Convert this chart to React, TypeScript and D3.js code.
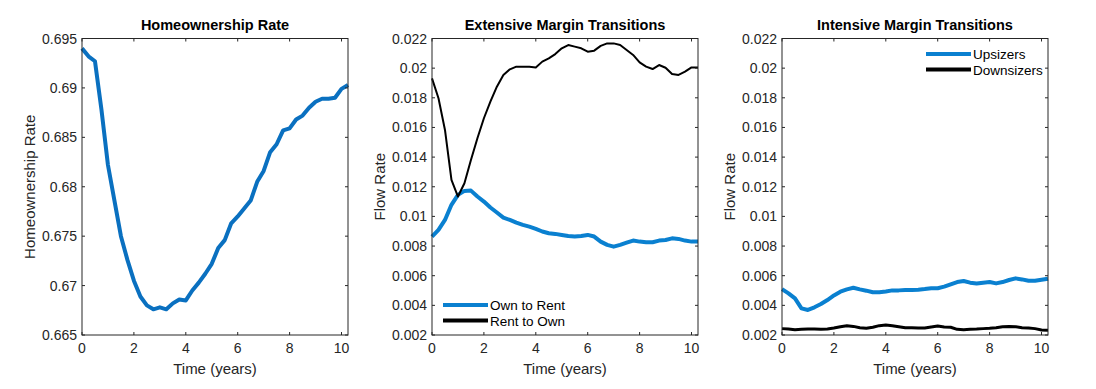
import * as d3 from 'd3'

const times = d3.range(0, 42).map(i => i * 0.25)

const homeownership = [
  0.6940, 0.6932, 0.6927, 0.6878, 0.6822, 0.6786, 0.6750, 0.6726, 0.6705, 0.6689,
  0.6680, 0.6676, 0.6678, 0.6676, 0.6682, 0.6686, 0.6685, 0.6695, 0.6703, 0.6712,
  0.6722, 0.6738, 0.6746, 0.6763, 0.6770, 0.6778, 0.6786, 0.6805, 0.6816, 0.6835,
  0.6843, 0.6857, 0.6859, 0.6868, 0.6872, 0.6880, 0.6886, 0.6889, 0.6889, 0.6890,
  0.6899, 0.6903,
]

const ownToRent = [
  0.00864, 0.00909, 0.00976, 0.01078, 0.01145, 0.01172, 0.01174, 0.01134, 0.01100, 0.01060,
  0.01026, 0.00992, 0.00976, 0.00958, 0.00943, 0.00931, 0.00916, 0.00898, 0.00886, 0.00882,
  0.00875, 0.00868, 0.00864, 0.00868, 0.00875, 0.00864, 0.00830, 0.00808, 0.00796, 0.00808,
  0.00823, 0.00837, 0.00830, 0.00826, 0.00826, 0.00837, 0.00841, 0.00852, 0.00848, 0.00837,
  0.00830, 0.00830,
]

const rentToOwn = [
  0.01931, 0.01797, 0.01583, 0.01246, 0.01134, 0.01224, 0.01381, 0.01527, 0.01662, 0.01774,
  0.01875, 0.01954, 0.01992, 0.02010, 0.02010, 0.02010, 0.02005, 0.02044, 0.02066, 0.02095,
  0.02134, 0.02156, 0.02145, 0.02134, 0.02111, 0.02118, 0.02150, 0.02167, 0.02167, 0.02156,
  0.02122, 0.02089, 0.02039, 0.02010, 0.01994, 0.02021, 0.02003, 0.01960, 0.01954, 0.01976,
  0.02005, 0.02005,
]

const upsizers = [
  0.00510, 0.00481, 0.00447, 0.00380, 0.00369, 0.00387, 0.00409, 0.00436, 0.00467, 0.00492,
  0.00508, 0.00519, 0.00508, 0.00499, 0.00488, 0.00488, 0.00494, 0.00501, 0.00501, 0.00503,
  0.00503, 0.00506, 0.00510, 0.00515, 0.00515, 0.00526, 0.00542, 0.00557, 0.00564, 0.00553,
  0.00548, 0.00553, 0.00557, 0.00548, 0.00557, 0.00571, 0.00582, 0.00575, 0.00566, 0.00566,
  0.00573, 0.00580,
]

const downsizers = [
  0.00243, 0.00240, 0.00236, 0.00238, 0.00240, 0.00240, 0.00238, 0.00240, 0.00247, 0.00256,
  0.00263, 0.00258, 0.00249, 0.00245, 0.00252, 0.00263, 0.00267, 0.00263, 0.00256, 0.00249,
  0.00249, 0.00247, 0.00247, 0.00254, 0.00260, 0.00254, 0.00252, 0.00238, 0.00236, 0.00238,
  0.00240, 0.00243, 0.00245, 0.00249, 0.00256, 0.00258, 0.00256, 0.00249, 0.00247, 0.00243,
  0.00234, 0.00232,
]

const xTicks = [0, 2, 4, 6, 8, 10]
const homeTicks = [0.665, 0.67, 0.675, 0.68, 0.685, 0.69, 0.695]
const flowTicks = [0.002, 0.004, 0.006, 0.008, 0.01, 0.012, 0.014, 0.016, 0.018, 0.02, 0.022]

const FONT = 'Liberation Sans, Arial, Helvetica, sans-serif'
const AXIS = '#262626'
const BLUE1 = '#0a70c0'
const BLUE2 = '#0a80d0'

interface Series {
  values: number[]
  color: string
  width: number
  label?: string
}

interface PanelProps {
  left: number
  right: number
  title: string
  yLabel: string
  yDomain: [number, number]
  yTicks: number[]
  series: Series[]
  legend?: { x: number; y: number; lineWidth: number }
}

const TOP = 38.5
const BOTTOM = 335

function Panel({ left, right, title, yLabel, yDomain, yTicks, series, legend }: PanelProps) {
  const x = d3.scaleLinear().domain([0, 10.25]).range([left, right])
  const y = d3.scaleLinear().domain(yDomain).range([BOTTOM, TOP])
  const tickLen = 3

  const line = d3.line<number>()
    .x((_, i) => x(times[i]))
    .y(d => y(d))

  return (
    <g>
      <rect x={left} y={TOP} width={right - left} height={BOTTOM - TOP} fill="#fff" />
      {series.map((s, i) => (
        <path key={i} d={line(s.values) || ''} fill="none" stroke={s.color}
          strokeWidth={s.width} strokeLinejoin="round" strokeLinecap="butt" />
      ))}
      <rect x={left} y={TOP} width={right - left} height={BOTTOM - TOP}
        fill="none" stroke={AXIS} strokeWidth={1} />
      {xTicks.map(t => (
        <g key={'x' + t}>
          <line x1={x(t)} x2={x(t)} y1={BOTTOM} y2={BOTTOM - tickLen} stroke={AXIS} />
          <line x1={x(t)} x2={x(t)} y1={TOP} y2={TOP + tickLen} stroke={AXIS} />
          <text x={x(t)} y={BOTTOM + 18} textAnchor="middle" fontSize={14}
            fontFamily={FONT} fill={AXIS}>{t}</text>
        </g>
      ))}
      {yTicks.map(t => (
        <g key={'y' + t}>
          <line x1={left} x2={left + tickLen} y1={y(t)} y2={y(t)} stroke={AXIS} />
          <line x1={right} x2={right - tickLen} y1={y(t)} y2={y(t)} stroke={AXIS} />
          <text x={left - 5} y={y(t) + 5} textAnchor="end" fontSize={14}
            fontFamily={FONT} fill={AXIS}>{String(+t.toFixed(4))}</text>
        </g>
      ))}
      <text x={(left + right) / 2} y={30} textAnchor="middle" fontSize={14.5}
        fontWeight="bold" fontFamily={FONT} fill="#000">{title}</text>
      <text x={(left + right) / 2} y={374} textAnchor="middle" fontSize={15}
        fontFamily={FONT} fill={AXIS}>Time (years)</text>
      <text transform={`translate(${left - 47},${(TOP + BOTTOM) / 2}) rotate(-90)`}
        textAnchor="middle" fontSize={15} fontFamily={FONT} fill={AXIS}>{yLabel}</text>
      {legend && series.map((s, i) => (
        <g key={'l' + i}>
          <line x1={legend.x} x2={legend.x + 45} y1={legend.y + i * 15.5}
            y2={legend.y + i * 15.5} stroke={s.color} strokeWidth={legend.lineWidth} />
          <text x={legend.x + 47} y={legend.y + i * 15.5 + 5} fontSize={13.5}
            fontFamily={FONT} fill="#000">{s.label}</text>
        </g>
      ))}
    </g>
  )
}

export default function App() {
  return (
    <svg width={1096} height={389} style={{ position: 'absolute', left: 0, top: 0, background: '#fff' }}>
      <rect width={1096} height={389} fill="#fff" />
      <Panel left={82} right={348} title="Homeownership Rate" yLabel="Homeownership Rate"
        yDomain={[0.665, 0.695]} yTicks={homeTicks}
        series={[{ values: homeownership, color: BLUE1, width: 4 }]} />
      <Panel left={432} right={698} title="Extensive Margin Transitions" yLabel="Flow Rate"
        yDomain={[0.002, 0.022]} yTicks={flowTicks}
        series={[
          { values: ownToRent, color: BLUE2, width: 4, label: 'Own to Rent' },
          { values: rentToOwn, color: '#000', width: 2, label: 'Rent to Own' },
        ]}
        legend={{ x: 443, y: 305, lineWidth: 4 }} />
      <Panel left={782} right={1048} title="Intensive Margin Transitions" yLabel="Flow Rate"
        yDomain={[0.002, 0.022]} yTicks={flowTicks}
        series={[
          { values: upsizers, color: BLUE2, width: 4, label: 'Upsizers' },
          { values: downsizers, color: '#000', width: 3, label: 'Downsizers' },
        ]}
        legend={{ x: 926, y: 54, lineWidth: 4 }} />
    </svg>
  )
}
